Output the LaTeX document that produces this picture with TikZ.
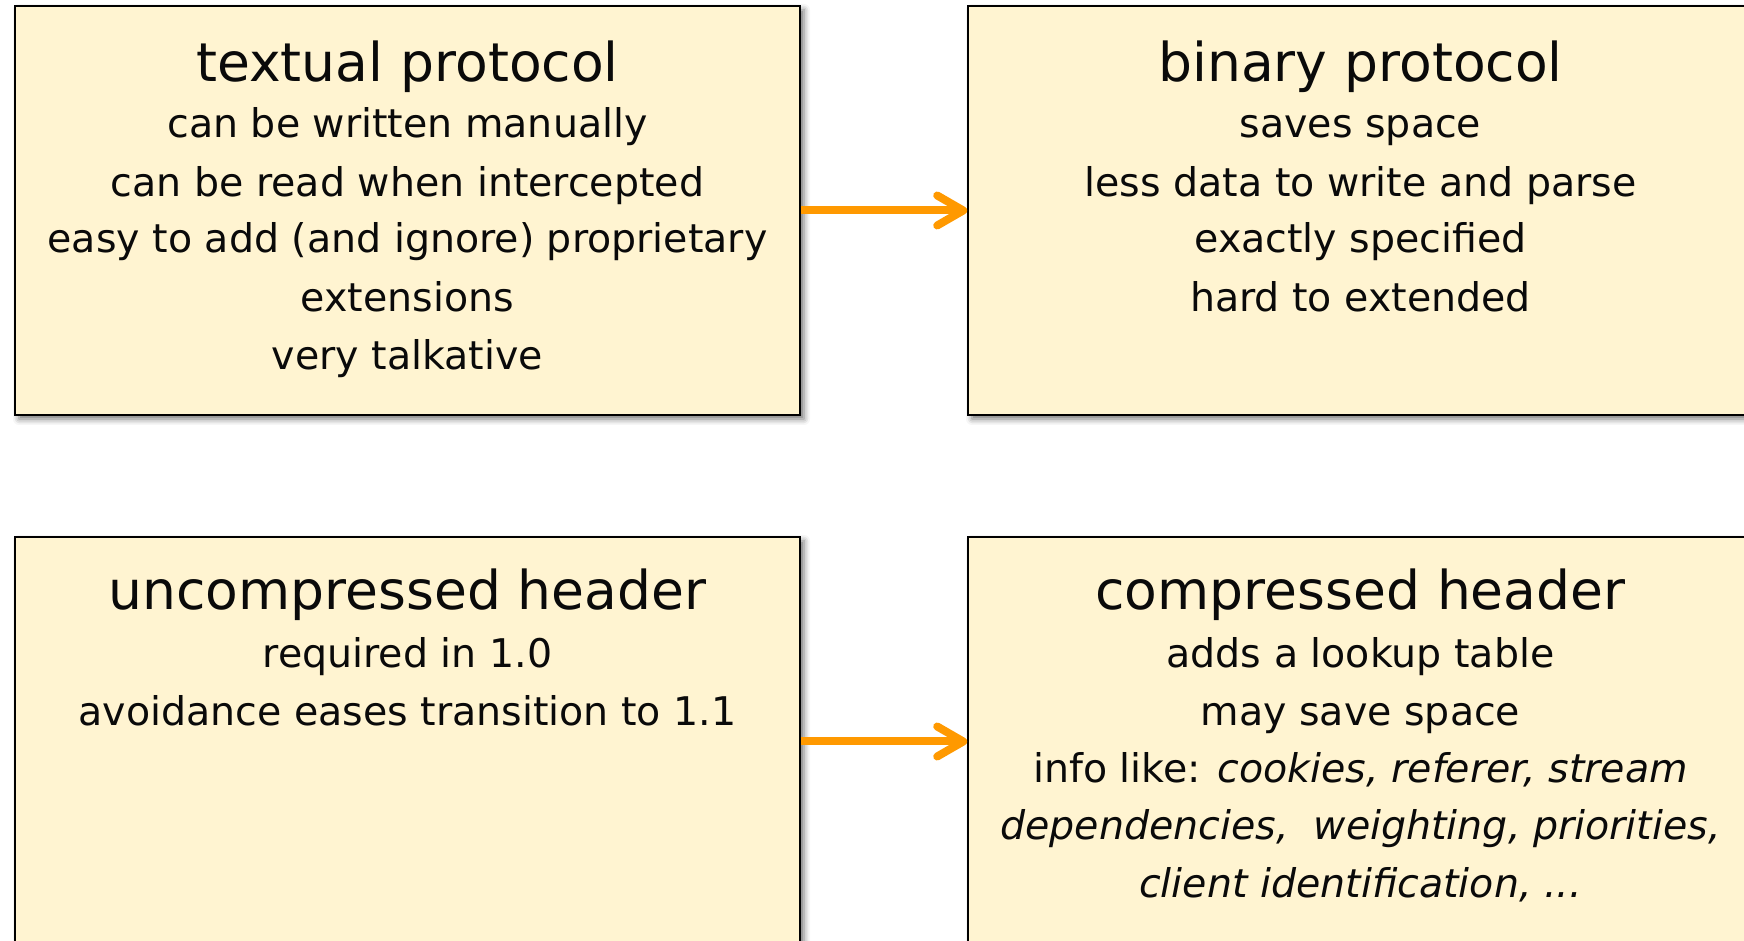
\documentclass[tikz,border=0pt]{standalone}
\usepackage{fontspec}
\setmainfont{DejaVu Sans}
\usetikzlibrary{arrows.meta,shadows.blur}
\definecolor{boxfill}{HTML}{FFF4D1}
\definecolor{flow}{HTML}{FF9900}
\definecolor{ink}{HTML}{0A0A0A}
\begin{document}
\begin{tikzpicture}[x=1pt,y=1pt,
  card/.style={draw=black, line width=1.6pt, fill=boxfill,
    minimum width=785pt, minimum height=409pt, inner sep=0pt,
    blur shadow={shadow xshift=4pt, shadow yshift=-4pt,
      shadow blur radius=6pt, shadow opacity=55}},
  head/.style={anchor=base, inner sep=0pt, text=ink,
    font=\fontsize{53.5}{60}\selectfont},
  item/.style={anchor=base, inner sep=0pt, text=ink,
    font=\fontsize{39.5}{46}\selectfont},
  link/.style={draw=flow, line width=8pt,
    -{Straight Barb[length=26pt, width=30pt, round]}}]
\useasboundingbox (0,0) rectangle (1744,941);
\clip (0,0) rectangle (1744,941);

% the four cards
\node[card] (tl) at (407.5,730.5) {};
\node[card] (tr) at (1360.5,730.5) {};
\node[card] (bl) at (407.5,199.5) {};
\node[card] (br) at (1360.5,199.5) {};

% textual protocol
\node[head] (tlh) at (407.5,859.3) {textual protocol};
\node[item] (tl1) at (407.5,803) {can be written manually};
\node[item] (tl2) at (407.5,744) {can be read when intercepted};
\node[item] (tl3) at (407.5,688) {easy to add (and ignore) proprietary};
\node[item] (tl4) at (407.5,629.3) {extensions};
\node[item] (tl5) at (407.5,571) {very talkative};

% binary protocol
\node[head] (trh) at (1360.5,859.3) {binary protocol};
\node[item] (tr1) at (1360.5,803) {saves space};
\node[item] (tr2) at (1360.5,744) {less data to write and parse};
\node[item] (tr3) at (1360.5,688) {exactly specified};
\node[item] (tr4) at (1360.5,629.3) {hard to extended};

% uncompressed header
\node[head] (blh) at (407.5,331) {uncompressed header};
\node[item] (bl1) at (407.5,273) {required in 1.0};
\node[item] (bl2) at (407.5,215) {avoidance eases transition to 1.1};

% compressed header
\node[head] (brh) at (1360.5,331) {compressed header};
\node[item] (br1) at (1360.5,273) {adds a lookup table};
\node[item] (br2) at (1360.5,215) {may save space};
\node[item] (br3) at (1360.5,158) {info like: \textit{cookies, referer, stream}};
\node[item] (br4) at (1360.5,101) {\textit{dependencies,\ \ weighting, priorities,}};
\node[item] (br5) at (1360.5,43) {\textit{client identification, ...}};

% transitions
\draw[link] (tl.east) -- (tr.west);
\draw[link] (bl.east) -- (br.west);
\end{tikzpicture}
\end{document}
